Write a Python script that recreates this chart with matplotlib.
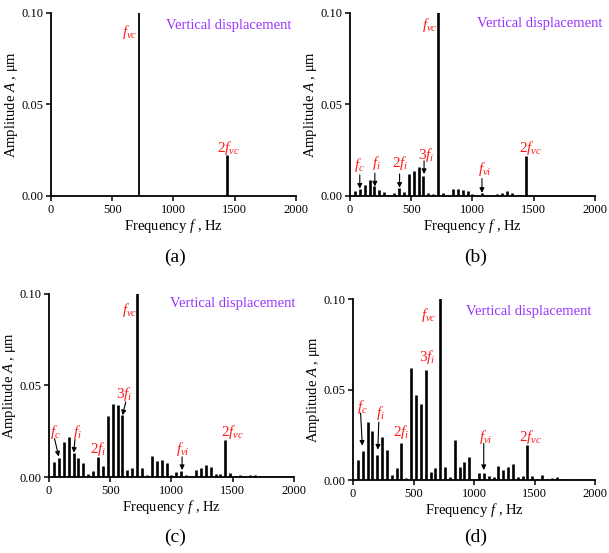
import numpy as np
import matplotlib
matplotlib.use("Agg")
import matplotlib.pyplot as plt

plt.rcParams.update({
    "font.family": "Liberation Serif",
    "mathtext.fontset": "custom",
    "mathtext.rm": "Liberation Serif",
    "mathtext.it": "Liberation Serif:italic",
    "mathtext.bf": "Liberation Serif:bold",
    "axes.linewidth": 1.3,
    "xtick.major.width": 1.1,
    "ytick.major.width": 1.1,
    "xtick.major.size": 3.5,
    "ytick.major.size": 3.5,
})

RED = "#FF1A1A"
PURPLE = "#9933FF"

# spectral line frequencies, Hz (40 Hz spacing)
freq = np.arange(40, 2001, 40)

# panel (a): only the fundamental and its double
amp_a_freq = [720, 1440]
amp_a = [0.12, 0.0225]

# panel (b) amplitudes, um
amp_b = [0.0029, 0.0037, 0.0062, 0.0086, 0.0053, 0.0035, 0.0020, 0.0006, 0.0017, 0.0042,
         0.0024, 0.0120, 0.0138, 0.0160, 0.0110, 0.0015, 0.0013, 0.1200, 0.0015, 0.0004,
         0.0037, 0.0037, 0.0031, 0.0028, 0.0009, 0.0006, 0.0016, 0.0004, 0.0003, 0.0013,
         0.0018, 0.0028, 0.0018, 0.0005, 0.0004, 0.0220, 0.0004, 0.0003, 0.0004, 0.0003,
         0.0003, 0.0003, 0.0003, 0.0003, 0.0003, 0.0003, 0.0003, 0.0003, 0.0003, 0.0003]

# panel (c) amplitudes, um
amp_c = [0.0080, 0.0102, 0.0190, 0.0219, 0.0130, 0.0102, 0.0077, 0.0018, 0.0035, 0.0110,
         0.0062, 0.0332, 0.0398, 0.0396, 0.0338, 0.0038, 0.0049, 0.1200, 0.0049, 0.0010,
         0.0115, 0.0090, 0.0093, 0.0075, 0.0013, 0.0026, 0.0033, 0.0013, 0.0007, 0.0036,
         0.0049, 0.0068, 0.0055, 0.0015, 0.0018, 0.0203, 0.0020, 0.0005, 0.0013, 0.0005,
         0.0010, 0.0013, 0.0006, 0.0006, 0.0006, 0.0006, 0.0006, 0.0006, 0.0006, 0.0006]

# panel (d) amplitudes, um
amp_d = [0.0110, 0.0160, 0.0320, 0.0273, 0.0136, 0.0236, 0.0164, 0.0028, 0.0066, 0.0206,
         0.0013, 0.0619, 0.0468, 0.0422, 0.0611, 0.0044, 0.0068, 0.1200, 0.0072, 0.0018,
         0.0223, 0.0072, 0.0099, 0.0129, 0.0006, 0.0040, 0.0037, 0.0020, 0.0015, 0.0077,
         0.0055, 0.0074, 0.0088, 0.0017, 0.0024, 0.0195, 0.0024, 0.0004, 0.0026, 0.0004,
         0.0010, 0.0017, 0.0004, 0.0008, 0.0008, 0.0004, 0.0004, 0.0003, 0.0003, 0.0003]

# annotations: (label, text x, text y, arrow from (x, y) to (x, y) or None)
notes_a = [(r"$f_{vc}$", 640, 0.0895, None),
           (r"$2f_{vc}$", 1450, 0.026, None)]
notes_b = [(r"$f_c$", 81, 0.0169, (80, 0.0115, 80, 0.0040)),
           (r"$f_i$", 216, 0.0178, (203, 0.0125, 203, 0.0052)),
           (r"$2f_i$", 411, 0.0178, (405, 0.0120, 405, 0.0045)),
           (r"$3f_i$", 627, 0.0224, (605, 0.0192, 605, 0.0120)),
           (r"$f_{vc}$", 654, 0.0935, None),
           (r"$f_{vi}$", 1100, 0.0150, (1078, 0.0095, 1078, 0.0017)),
           (r"$2f_{vc}$", 1478, 0.0260, None)]
notes_c = [(r"$f_c$", 54, 0.0246, (45, 0.0210, 79, 0.0112)),
           (r"$f_i$", 229, 0.0246, (212, 0.0205, 202, 0.0133)),
           (r"$2f_i$", 400, 0.0155, None),
           (r"$3f_i$", 618, 0.0456, (627, 0.0410, 600, 0.0338)),
           (r"$f_{vc}$", 659, 0.0910, None),
           (r"$f_{vi}$", 1090, 0.0155, (1087, 0.0110, 1087, 0.0038)),
           (r"$2f_{vc}$", 1496, 0.0246, None)]
notes_d = [(r"$f_c$", 82, 0.0405, (63, 0.0370, 77, 0.0190)),
           (r"$f_i$", 227, 0.0368, (213, 0.0320, 205, 0.0168)),
           (r"$2f_i$", 402, 0.0267, None),
           (r"$3f_i$", 609, 0.0680, None),
           (r"$f_{vc}$", 623, 0.0910, None),
           (r"$f_{vi}$", 1098, 0.0240, (1079, 0.0203, 1079, 0.0055)),
           (r"$2f_{vc}$", 1462, 0.0240, None)]

panels = [
    ("(a)", amp_a_freq, amp_a, notes_a, [1.3, 1.9], [0.0837, 0.6456, 0.402, 0.331], (0.724, 0.932), (175, 257)),
    ("(b)", freq, amp_b, notes_b, 1.9, [0.5747, 0.6456, 0.402, 0.331], (0.773, 0.945), (476, 257)),
    ("(c)", freq, amp_c, notes_c, 1.9, [0.0805, 0.1374, 0.402, 0.331], (0.749, 0.949), (175, 537)),
    ("(d)", freq, amp_d, notes_d, 1.9, [0.5796, 0.1320, 0.3980, 0.327], (0.723, 0.934), (476, 537)),
]

W, H = 609, 553
fig = plt.figure(figsize=(W / 100, H / 100), dpi=100)

for tag, fx, amp, notes, lw, rect, vpos, lpos in panels:
    ax = fig.add_axes(rect)
    ax.vlines(fx, 0, amp, color="black", lw=lw)
    ax.set_xlim(0, 2000)
    ax.set_ylim(0, 0.10)
    ax.set_xticks([0, 500, 1000, 1500, 2000])
    ax.set_yticks([0.0, 0.05, 0.10])
    ax.set_yticklabels(["0.00", "0.05", "0.10"])
    ax.tick_params(labelsize=9, pad=2)
    for s in ("top", "right"):
        ax.spines[s].set_visible(False)
    ax.set_xlabel(r"Frequency $f$ , Hz", fontsize=10.5, labelpad=1)
    ax.set_ylabel(r"Amplitude $A$ , $\mathrm{\mu m}$", fontsize=10.5, labelpad=1)
    ax.text(vpos[0], vpos[1], "Vertical displacement", transform=ax.transAxes,
            color=PURPLE, fontsize=10.5, ha="center", va="center")
    for lab, tx, ty, arr in notes:
        ax.text(tx, ty, lab, color=RED, fontsize=11, ha="center", va="center")
        if arr is not None:
            x0, y0, x1, y1 = arr
            ax.annotate("", xy=(x1, y1), xytext=(x0, y0),
                        arrowprops=dict(arrowstyle="-|>", color="black", lw=0.8,
                                        mutation_scale=7, shrinkA=0, shrinkB=0))
    fig.text(lpos[0] / W, 1 - lpos[1] / H, tag, fontsize=14, ha="center", va="center")

fig.savefig("out.png", dpi=100)
